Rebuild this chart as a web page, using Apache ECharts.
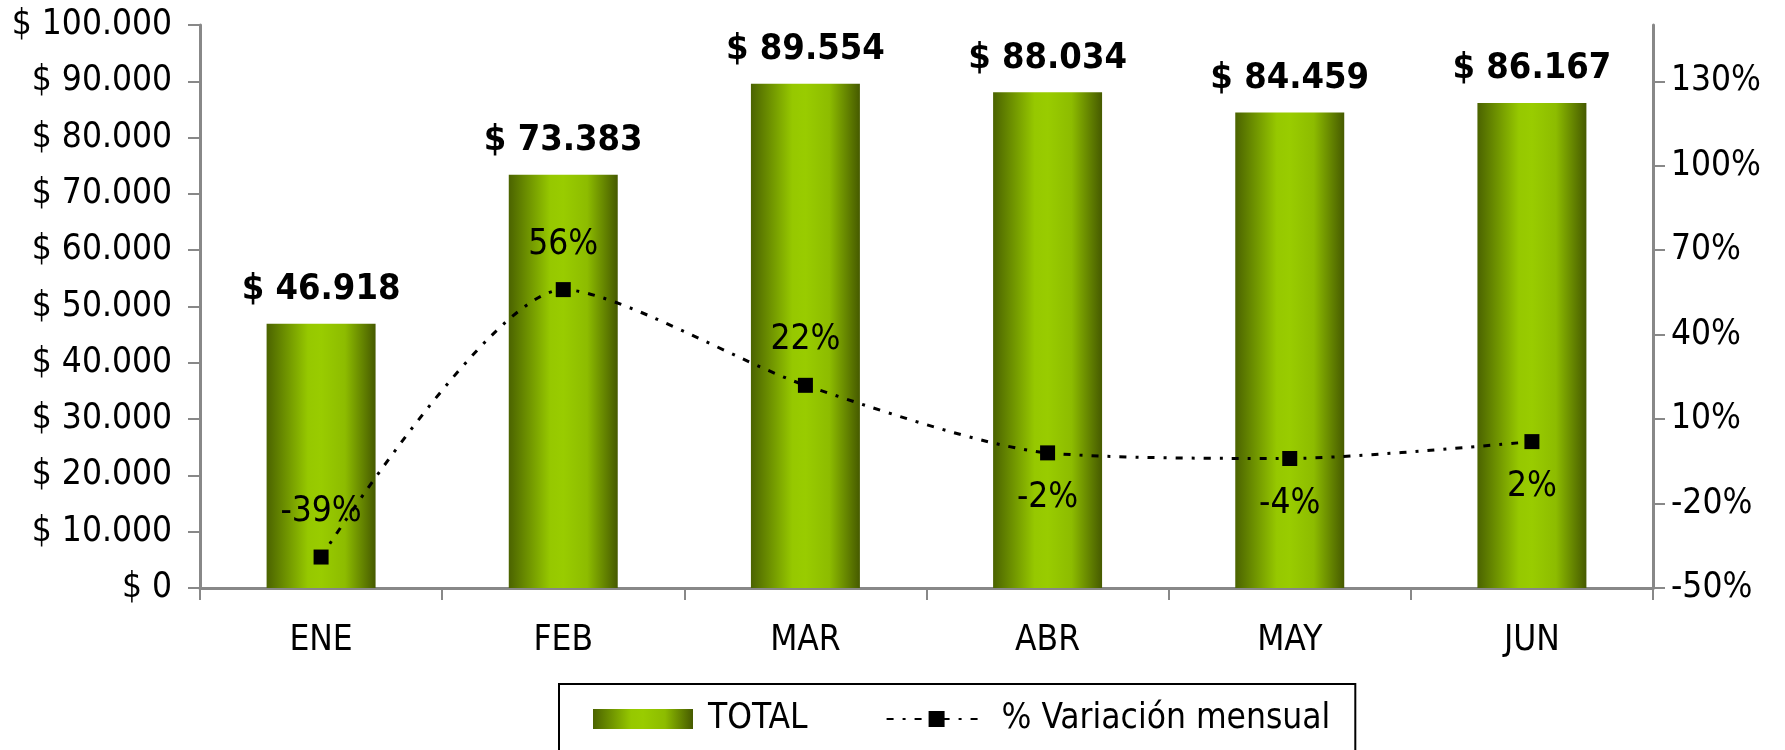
<!DOCTYPE html>
<html>
<head>
<meta charset="utf-8">
<script src="https://cdn.jsdelivr.net/npm/echarts@6/dist/echarts.min.js"></script>
<style>html,body{margin:0;background:#fff}#chart{width:1785px;height:750px}</style>
</head>
<body>
<div id="chart"></div>
<script>
// datos
const months = ['ENE', 'FEB', 'MAR', 'ABR', 'MAY', 'JUN']
const totals = [46918, 73383, 89554, 88034, 84459, 86167]
const variation = [-39, 56, 22, -2, -4, 2]
const pctTicks = [-50, -20, 10, 40, 70, 100, 130]

const FONT = 'Tahoma, "DejaVu Sans Condensed", "Liberation Sans", sans-serif'
const miles = (n) => String(n).replace(/\B(?=(\d{3})+(?!\d))/g, '.')

const barFill = new echarts.graphic.LinearGradient(0, 0, 1, 0, [
  { offset: 0, color: '#4b6300' },
  { offset: 0.38, color: '#96c800' },
  { offset: 0.5, color: '#99cc00' },
  { offset: 0.72, color: '#8dbc00' },
  { offset: 1, color: '#465a00' },
])

const chart = echarts.init(document.getElementById('chart'))
chart.setOption({
  backgroundColor: '#fff',
  animation: false,
  textStyle: { fontFamily: FONT, color: '#000' },
  grid: { left: 200, right: 132, top: 25, bottom: 162 },
  legend: {
    left: 559, top: 684,
    padding: [17, 25, 40, 34],
    borderColor: '#000', borderWidth: 2,
    itemWidth: 100, itemHeight: 20, itemGap: 78,
    textStyle: { fontSize: 35, lineHeight: 36, color: '#000', fontFamily: FONT, padding: [0, 0, 0, 10] },
    data: [{ name: 'TOTAL', icon: 'rect' }, { name: '% Variación mensual' }],
  },
  xAxis: {
    type: 'category', data: months,
    axisLine: { lineStyle: { color: '#888', width: 3 } },
    axisTick: { show: true, length: 12, lineStyle: { color: '#888', width: 2 } },
    axisLabel: { fontSize: 35, color: '#000', margin: 35 },
  },
  yAxis: [
    {
      type: 'value', min: 0, max: 100000, interval: 10000,
      axisLine: { show: true, lineStyle: { color: '#888', width: 3 } },
      axisTick: { show: true, length: 12, lineStyle: { color: '#888', width: 2 } },
      splitLine: { show: false },
      axisLabel: { fontSize: 35, color: '#000', margin: 28, formatter: (v) => '$ ' + miles(v) },
    },
    {
      type: 'value', min: -50, max: 150, position: 'right',
      axisLine: { show: true, lineStyle: { color: '#888', width: 3 } },
      axisTick: { show: true, length: 12, customValues: pctTicks, lineStyle: { color: '#888', width: 2 } },
      splitLine: { show: false },
      axisLabel: { fontSize: 35, color: '#000', margin: 18, customValues: pctTicks, formatter: '{value}%' },
    },
  ],
  series: [
    {
      name: 'TOTAL', type: 'bar', data: totals, barWidth: '45%',
      itemStyle: { color: barFill },
      label: {
        show: true, position: 'top', distance: 16,
        fontSize: 36, fontWeight: 'bold', color: '#000', fontFamily: FONT,
        formatter: (p) => '$ ' + miles(p.value),
      },
    },
    {
      name: '% Variación mensual', type: 'line', yAxisIndex: 1, smooth: 0.25,
      data: variation.map((v, i) => ({ value: v, label: { position: i < 3 ? 'top' : 'bottom' } })),
      symbol: 'rect', symbolSize: 15,
      itemStyle: { color: '#000' },
      lineStyle: { color: '#000', width: 3, type: [7, 9, 3, 9] },
      label: { show: true, distance: 20, fontSize: 35, color: '#000', fontFamily: FONT, formatter: '{c}%' },
    },
  ],
})
</script>
</body>
</html>
